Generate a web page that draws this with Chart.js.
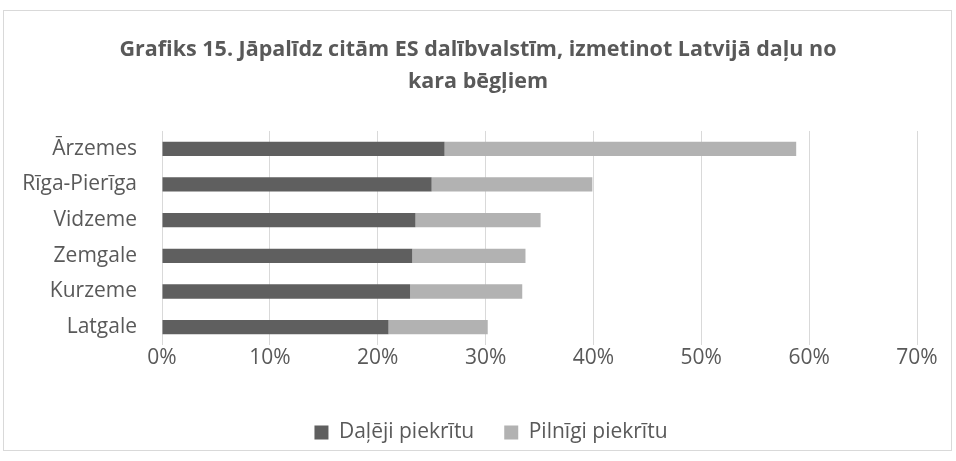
<!DOCTYPE html>
<html>
<head>
    <title>Grafiks 15</title>
    <script src="https://cdn.jsdelivr.net/npm/chart.js"></script>
    <style>
        body { margin: 0; background: #fff; }
        #wrap { width: 956px; height: 461px; }
    </style>
</head>
<body>
<div id="wrap"><canvas id="chart" width="956" height="461"></canvas></div>
<script>
    // data (percent)
    var regions = ['Ārzemes', 'Rīga-Pierīga', 'Vidzeme', 'Zemgale', 'Kurzeme', 'Latgale'];
    var partly = [26.2, 25.0, 23.5, 23.2, 23.0, 21.0];
    var fully = [32.6, 14.9, 11.6, 10.5, 10.4, 9.2];
    var tickValues = [0, 10, 20, 30, 40, 50, 60, 70];

    var fontFam = "'Open Sans', 'Noto Sans', sans-serif";
    var textColor = '#595959';

    var ctx = document.getElementById('chart').getContext('2d');

    var frame = {
        id: 'frame',
        beforeDraw: function(chart) {
            var c = chart.ctx;
            c.save();
            c.fillStyle = '#fff';
            c.fillRect(0, 0, chart.width, chart.height);
            c.strokeStyle = '#d9d9d9';
            c.lineWidth = 1;
            c.strokeRect(3.5, 10.5, 948, 440);
            c.restore();
        }
    };

    // title centred on the whole canvas, legend a bit right, like the original
    var shiftBoxes = {
        id: 'shiftBoxes',
        afterLayout: function(chart) {
            var t = chart.titleBlock;
            t.left += 14.5; t.right += 14.5;
            var lg = chart.legend;
            lg.left += 27.5; lg.right += 27.5;
            lg.top -= 8; lg.bottom -= 8;
        }
    };

    new Chart(ctx, {
        type: 'bar',
        data: {
            labels: regions,
            datasets: [
                { label: 'Daļēji piekrītu', data: partly, backgroundColor: '#5f5f5f', barPercentage: 0.8, categoryPercentage: 0.5 },
                { label: 'Pilnīgi piekrītu', data: fully, backgroundColor: '#b2b2b2', barPercentage: 0.8, categoryPercentage: 0.5 }
            ]
        },
        options: {
            indexAxis: 'y',
            responsive: false,
            animation: false,
            layout: { padding: { left: 10, right: 39, top: 34, bottom: 0 } },
            scales: {
                x: {
                    stacked: true,
                    min: 0,
                    max: 70,
                    afterBuildTicks: function(axis) {
                        axis.ticks = tickValues.map(function(v) { return { value: v }; });
                    },
                    afterFit: function(axis) { axis.height = 55; },
                    ticks: {
                        callback: function(v) { return v + '%'; },
                        color: textColor,
                        font: { family: fontFam, size: 21 },
                        padding: 0,
                        maxRotation: 0
                    },
                    grid: { color: '#d9d9d9', drawTicks: false },
                    border: { display: false }
                },
                y: {
                    stacked: true,
                    afterFit: function(axis) { axis.width = 152; },
                    ticks: {
                        color: textColor,
                        font: { family: fontFam, size: 21 },
                        padding: 25
                    },
                    grid: { display: false, drawTicks: false },
                    border: { display: false }
                }
            },
            plugins: {
                title: {
                    display: true,
                    text: ['Grafiks 15. Jāpalīdz citām ES dalībvalstīm, izmetinot Latvijā daļu no', 'kara bēgļiem'],
                    color: textColor,
                    font: { family: fontFam, size: 21.5, weight: 'bold', lineHeight: 1.488 },
                    padding: { top: 0, bottom: 33 }
                },
                legend: {
                    position: 'bottom',
                    labels: {
                        color: textColor,
                        font: { family: fontFam, size: 21 },
                        boxWidth: 14,
                        boxHeight: 14,
                        padding: 30
                    }
                },
                tooltip: { enabled: false }
            }
        },
        plugins: [frame, shiftBoxes]
    });
</script>
</body>
</html>
